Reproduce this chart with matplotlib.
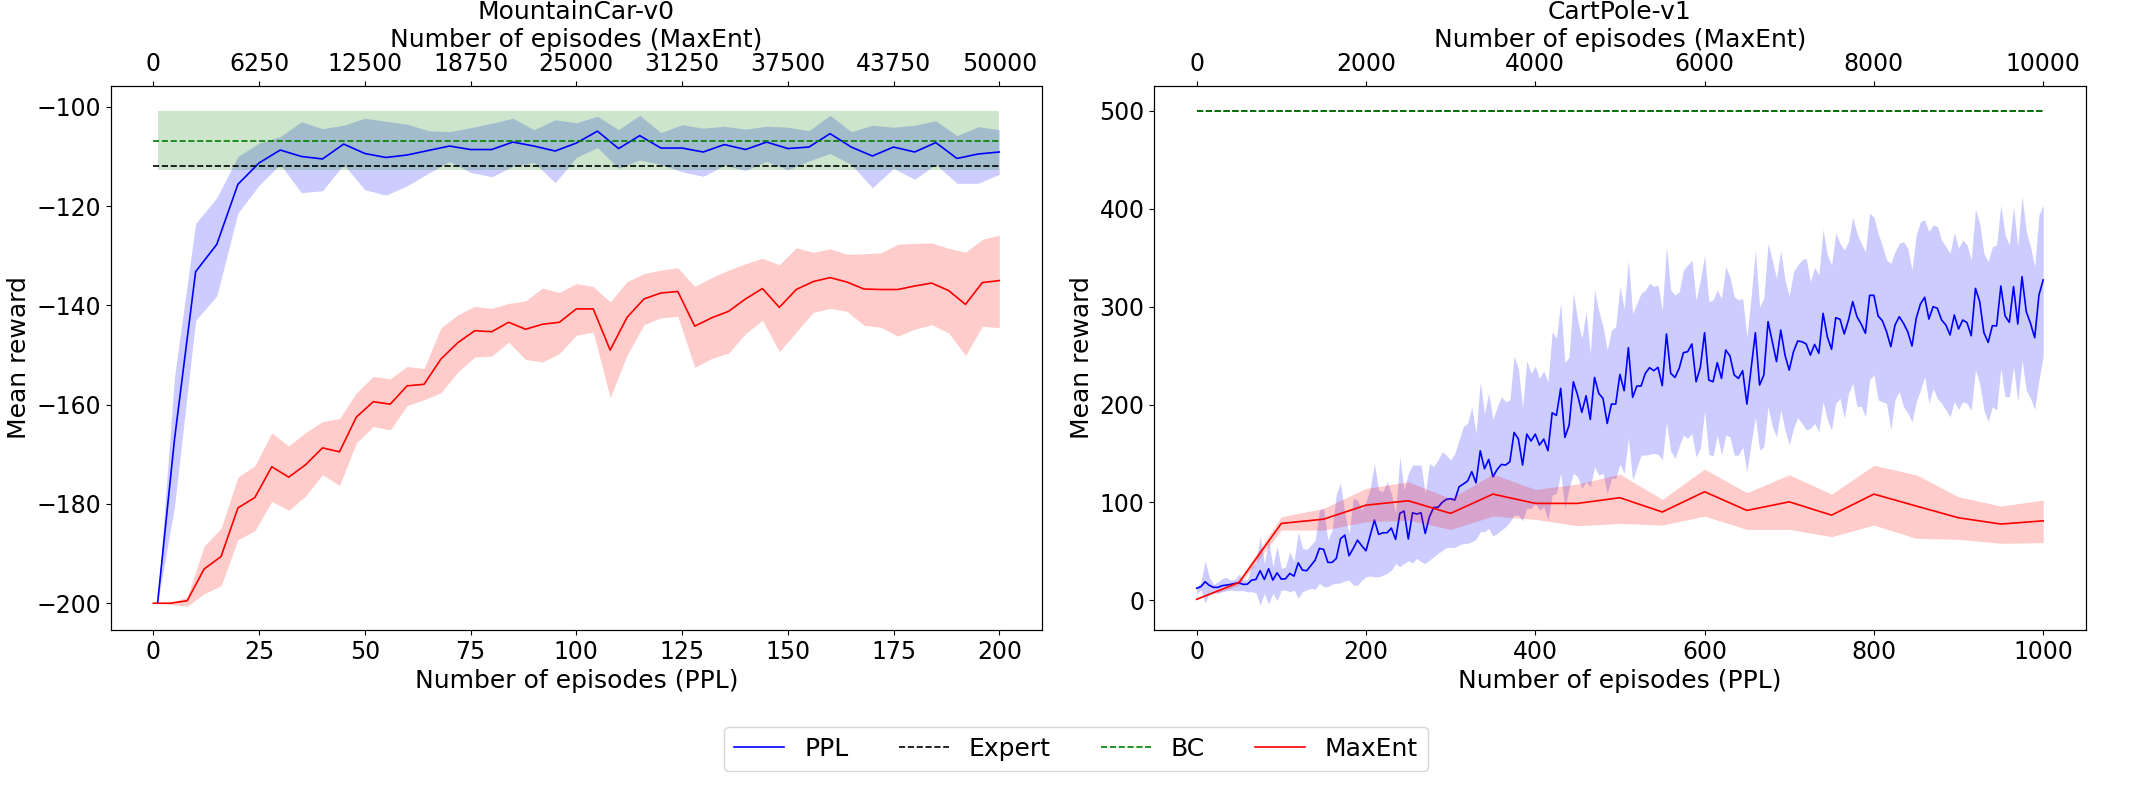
import numpy as np
import matplotlib
matplotlib.use("Agg")
import matplotlib.pyplot as plt

# ---- MountainCar-v0 ----
mc_ppl_x = [1] + list(range(5, 201, 5))
mc_ppl_mean = [-200, -167, -133.2, -127.7, -115.6, -111.3, -108.7, -110, -110.5, -107.5,
               -109.4, -110.2, -109.7, -108.8, -107.9, -108.6, -108.6, -107.1, -107.9, -108.9,
               -107.3, -104.9, -108.4, -105.8, -108.3, -108.3, -109.1, -107.6, -108.6, -107.1,
               -108.4, -108.1, -105.4, -108.1, -109.9, -108.1, -109.1, -107.2, -110.4, -109.5,
               -109.1]
mc_ppl_up = [-200, -154.4, -123.5, -118.3, -110, -107.3, -106, -103, -104.4, -103.7,
             -102.3, -102.9, -103.5, -104.8, -105, -104.2, -103.3, -102.3, -104.6, -102.6,
             -103.2, -101.9, -104.6, -101.7, -105.2, -103.6, -104.3, -103.9, -104.5, -103.9,
             -104.1, -104.8, -101.7, -105, -103.7, -104.1, -103.7, -102.8, -105.8, -104,
             -104.6]
mc_ppl_low = [-200, -180.6, -143, -138.1, -121.4, -115.8, -111.6, -117.3, -116.9, -111.6,
              -116.7, -117.8, -115.9, -113.4, -111, -113.2, -114.1, -112, -111.2, -115.3,
              -110.2, -108.2, -112.4, -110.7, -111.6, -113.1, -114, -111.8, -112.8, -111,
              -112.7, -110.9, -109.4, -111.6, -116.3, -112.4, -114.6, -111.6, -115.4, -115.4,
              -113.6]
mc_maxent_x = list(range(0, 50001, 1000))
mc_maxent_mean = [-200, -200, -199.5, -193.1, -190.6, -180.8, -178.7, -172.5, -174.6, -172.1,
                  -168.7, -169.5, -162.5, -159.4, -159.9, -156.2, -155.9, -150.8, -147.5, -145.1,
                  -145.3, -143.4, -144.8, -143.8, -143.4, -140.7, -140.7, -149, -142.4, -138.7,
                  -137.5, -137.2, -144.2, -142.5, -141.2, -138.7, -136.6, -140.4, -136.8, -135.2,
                  -134.4, -135.3, -136.7, -136.8, -136.8, -136.1, -135.5, -137, -139.8, -135.4,
                  -135]
mc_maxent_up = [-200, -199.8, -198.8, -188.5, -184.9, -174.6, -172.3, -165.7, -168.3, -165.6,
                -163.4, -162.8, -157.6, -154.3, -154.8, -152.3, -152.7, -144.5, -141.9, -140.2,
                -140.6, -139.6, -139.1, -136.5, -137.4, -135.6, -136.2, -139.3, -135.2, -133.6,
                -132.9, -132.4, -136.2, -134.4, -132.9, -131.6, -130.5, -131.8, -128.4, -129.3,
                -128.6, -129.7, -129.6, -129.4, -127.7, -127.5, -127.4, -128.5, -129.3, -126.7,
                -125.8]
mc_maxent_low = [-200, -200.2, -200.6, -198.1, -196.5, -187.2, -185.4, -179.5, -181.3, -178.4,
                 -174.1, -176.3, -167.7, -164.4, -165.1, -160.2, -159, -157.6, -153.4, -150.4,
                 -150.2, -147.4, -150.9, -151.4, -149.7, -146, -145.4, -158.6, -150, -143.9,
                 -142.5, -142.2, -152.5, -150.7, -149.6, -145.7, -143, -149.3, -145.4, -141.4,
                 -140.6, -141.2, -144, -144.4, -146.2, -144.8, -143.9, -145.5, -150.1, -144.2,
                 -144.5]
mc_expert = -111.9
mc_bc_mean = -106.8
mc_bc_std = 6.0

# ---- CartPole-v1 ----
cp_ppl_x = list(range(0, 1001, 5))
cp_ppl_mean = [12.2, 13.9, 19, 15.2, 13.2, 13.2, 14.9, 15.5, 16.2, 17.2,
               17.9, 16.2, 16.5, 20.6, 21.3, 30.2, 21.3, 32.2, 20.6, 28.1,
               21.6, 22, 27.4, 24.7, 38.3, 30.8, 30.2, 35.6, 41.1, 53,
               52, 38.7, 38.7, 42.8, 62.9, 66.6, 45.5, 53, 61.5, 55.7,
               50.6, 66.3, 82, 67.3, 69, 69, 73.8, 62.2, 88.8, 91.2,
               62.6, 89.4, 88.1, 89.4, 68.3, 85.3, 94.9, 94.9, 100, 103.1,
               103.8, 102.4, 116, 118.8, 121.8, 131.4, 120, 152.8, 134.4, 143.9,
               126.2, 133.7, 138.8, 138.2, 141.6, 171.5, 165, 138.2, 169.8, 162.7,
               169.8, 158.6, 164.7, 152.8, 191.6, 188.9, 216.5, 166.4, 179, 223.3,
               209.7, 192, 209, 184.8, 227.7, 211.4, 206.3, 180.7, 200.5, 200.5,
               230.8, 214.1, 258.1, 207.3, 218.9, 218.9, 231.9, 237.7, 234.6, 238,
               219.3, 272.1, 231.9, 227.7, 237, 253, 254, 261.9, 223.3, 238,
               273.4, 225, 223.3, 242.8, 226.7, 255.7, 249.6, 230.2, 226.7, 234.6,
               200.5, 237, 273.4, 219.9, 230.2, 284.7, 264.2, 243.8, 276.1, 250.5,
               235.2, 253.9, 264.9, 264.2, 261.9, 250.5, 261.5, 252.3, 293.2, 269.3,
               256.4, 288.8, 287.1, 272.1, 286.4, 305.2, 289.8, 282.3, 272.8, 311.6,
               311.6, 290.5, 285.7, 274.4, 259.1, 281.3, 289.8, 283, 274.4, 259.8,
               288.1, 302.8, 309.6, 287.4, 300, 298.3, 286.4, 281.3, 271.1, 291.5,
               277.2, 286.4, 283.7, 270.3, 318.7, 305.2, 273.4, 263.5, 280.6, 280.3,
               321.1, 290.5, 284, 320.5, 282.3, 330.7, 294.9, 283, 268.3, 311.9,
               327.3]
cp_ppl_up = [14.6, 18, 40.4, 23.4, 16, 19, 22, 23.4, 20.6, 21.3,
             26.8, 20.6, 21.3, 34.9, 37.6, 65.6, 37.6, 61.5, 34.2, 55.3,
             32.5, 34.2, 49.6, 39.4, 70, 53, 52, 56.4, 61.5, 92.2,
             93.9, 61.5, 71.7, 109.2, 119.4, 88.8, 68.3, 104, 102.4, 92.2,
             100.7, 114.3, 139.9, 112.6, 110.9, 121.1, 109.2, 88.8, 146.7, 112.6,
             129.6, 138.2, 138.2, 138.2, 109.2, 139.9, 136.5, 143.3, 151.8, 148.4,
             143.3, 150.1, 163.8, 177.4, 180.8, 197.8, 170.5, 223.3, 190.9, 211.4,
             184.8, 197.8, 208, 202.9, 204.6, 249.6, 237, 196.8, 244.9, 231.9,
             239.4, 226.7, 234.6, 223.3, 274.4, 267.6, 304.1, 242.8, 248.9, 314.3,
             286.4, 267.6, 294.9, 252.3, 317, 295.9, 279.6, 255.7, 276.1, 279.6,
             320.5, 298.3, 347.7, 293.2, 303.5, 313.7, 317, 323.9, 320.5, 322.2,
             296.6, 361.4, 317, 311.9, 315.3, 337.4, 342.5, 347.7, 306.8, 327.3,
             352.8, 305.2, 306.8, 317, 308.5, 340.9, 330.7, 310.2, 306.8, 308.5,
             269.3, 310.2, 358, 300, 308.5, 364.8, 347.7, 329, 357.3, 327.3,
             310.9, 335.7, 342.5, 347.7, 349.4, 325.6, 340.2, 332.4, 379.1, 352.8,
             342.5, 375, 364.8, 358, 366.5, 391.4, 375, 364.8, 356.3, 395.5,
             391.4, 375, 362.1, 347.7, 344.3, 356.3, 364.8, 366.5, 359.7, 337.4,
             373.3, 386.9, 388.6, 376.7, 383.5, 381.8, 368.2, 361.4, 354.6, 375.7,
             359.7, 368.2, 363.1, 347.7, 399.5, 385.2, 354.6, 346, 361.4, 363.1,
             404, 373.3, 363.1, 402.3, 361.4, 413.2, 376.7, 361.4, 340.9, 393.8,
             404]
cp_ppl_low = [7, 10.5, -2.5, 7, 8.7, 7, 8.7, 9.8, 10.5, 9.8,
              9.8, 9.8, 8.7, 8.7, 7.7, -4.9, 7, -3.9, 7, -0.4,
              10.5, 10.5, 8.7, 10.5, 2, 8.7, 10.5, 12.2, 11.2, 17.2,
              13.9, 13.9, 16.5, 17.2, 17.9, 19.9, 20.6, 15.5, 15.5, 20.6,
              24, 24.7, 24, 24, 25.7, 27.4, 30.8, 37.6, 34.2, 37.6,
              40.4, 38.3, 42.8, 39.4, 37.6, 41.1, 44.5, 47.9, 50.6, 54,
              54, 54, 56.4, 58.1, 58.1, 59.8, 62.2, 70, 70.1, 73.4,
              65.6, 68.3, 71.7, 75.1, 80.2, 87, 87, 81.2, 93.9, 93.9,
              99, 92.2, 95.6, 81.9, 107.5, 109.2, 129.6, 93.9, 114.3, 129.6,
              126.2, 114.3, 121.1, 116, 136.5, 127.9, 129.6, 109.2, 124.5, 124.5,
              139.1, 129.6, 165.4, 122.8, 135.7, 148.3, 148.3, 149.3, 150, 149.3,
              143.2, 181.4, 152.8, 144.9, 157.5, 168.8, 165.4, 170.5, 146.6, 155.2,
              193.3, 149.3, 147.3, 168.8, 148.3, 168.8, 167.1, 148.3, 148.3, 156.8,
              131.4, 160.3, 186.8, 153.5, 156.8, 197.8, 177.4, 167.1, 194.4, 174,
              158.6, 175.7, 186.8, 180.7, 174, 175.7, 180.7, 172.2, 202.9, 184.1,
              174, 201.2, 206.3, 185.8, 211.4, 221.6, 197.8, 198.5, 187.5, 225.7,
              230.2, 204.6, 202.9, 201.2, 174, 205.3, 213.1, 197.8, 191.6, 182.4,
              202.9, 214.8, 228.4, 201.2, 216.5, 206.3, 201.2, 194.4, 187.5, 202.9,
              195.1, 202.9, 201.2, 194.4, 235.2, 221.6, 194.4, 182.4, 197.8, 194.4,
              237, 208, 208, 238.6, 202.9, 245.4, 214.8, 206.3, 195.1, 225,
              248.9]
cp_maxent_x = list(range(0, 10001, 500))
cp_maxent_mean = [1, 18.2, 78.5, 82.9, 97.2, 101.7, 88.8, 108.5, 99, 99, 104.8,
                  90.2, 110.9, 91.8, 100.6, 87, 108.5, 96.3, 84.3, 77.9, 81.2]
cp_maxent_up = [1, 20.6, 85.4, 93.9, 114.3, 121.1, 104, 128.9, 113.3, 118.8, 128.9,
                103.1, 134.1, 109.9, 128.2, 108.5, 137.9, 128.2, 105.8, 96.3, 102.4]
cp_maxent_low = [1, 15.5, 71.7, 71.7, 80.2, 81.9, 72.4, 86, 82.6, 76.2, 78.5,
                 76.8, 86, 72.4, 72.4, 65, 76.8, 63.3, 62.3, 58.2, 58.9]
cp_expert = 500
cp_bc_mean = 500
cp_bc_std = 0


def draw_panel(rect, title, ppl_x, ppl_mean, ppl_up, ppl_low,
               me_x, me_mean, me_up, me_low, expert, bc_mean, bc_std,
               xlim, me_xlim, me_ticks, ylim):
    ax = fig.add_axes(rect)
    LW = 1.2
    ax.plot(ppl_x, ppl_mean, color="b", lw=LW, label="PPL")
    ax.fill_between(ppl_x, ppl_low, ppl_up, color="b", alpha=0.2, lw=0)
    ax.hlines(expert, 0, ppl_x[-1], colors="k", linestyles="--", lw=LW, label="Expert")
    ax.hlines(bc_mean, 0, ppl_x[-1], colors="g", linestyles="--", lw=LW, label="BC")
    if bc_std > 0:
        ax.fill_between(ppl_x, bc_mean - bc_std, bc_mean + bc_std, color="g", alpha=0.2, lw=0)
    ax.set_xlim(*xlim)
    ax.set_ylim(*ylim)
    ax.set_xlabel("Number of episodes (PPL)", fontsize=18)
    ax.set_ylabel("Mean reward", fontsize=18)
    ax.tick_params(labelsize=17)

    # MaxEnt is counted in its own episodes, on the top axis
    ax2 = ax.twiny()
    ax2.plot(me_x, me_mean, color="r", lw=LW, label="MaxEnt")
    ax2.fill_between(me_x, me_low, me_up, color="r", alpha=0.2, lw=0)
    ax2.set_xlim(*me_xlim)
    ax2.set_xticks(me_ticks)
    ax2.set_ylim(*ylim)
    ax2.set_xlabel("Number of episodes (MaxEnt)", fontsize=18)
    ax2.tick_params(labelsize=17)
    ax.set_title(title, fontsize=18)
    return ax, ax2


fig = plt.figure(figsize=(21.52, 7.94), dpi=100)

ax_l, ax_l2 = draw_panel([0.0516, 0.2065, 0.4324, 0.6852], "MountainCar-v0",
                         mc_ppl_x, mc_ppl_mean, mc_ppl_up, mc_ppl_low,
                         mc_maxent_x, mc_maxent_mean, mc_maxent_up, mc_maxent_low,
                         mc_expert, mc_bc_mean, mc_bc_std,
                         (-10, 210), (-2500, 52500), np.arange(0, 50001, 6250),
                         (-205.4, -95.8))

ax_r, ax_r2 = draw_panel([0.5364, 0.2065, 0.4327, 0.6852], "CartPole-v1",
                         cp_ppl_x, cp_ppl_mean, cp_ppl_up, cp_ppl_low,
                         cp_maxent_x, cp_maxent_mean, cp_maxent_up, cp_maxent_low,
                         cp_expert, cp_bc_mean, cp_bc_std,
                         (-50, 1050), (-500, 10500), np.arange(0, 10001, 2000),
                         (-30.4, 525.5))

h1, l1 = ax_l.get_legend_handles_labels()
h2, l2 = ax_l2.get_legend_handles_labels()
fig.legend(h1 + h2, l1 + l2, loc="lower center", ncol=4, fontsize=18,
           bbox_to_anchor=(0.5, 0.013))

fig.savefig("out.png", dpi=100)
